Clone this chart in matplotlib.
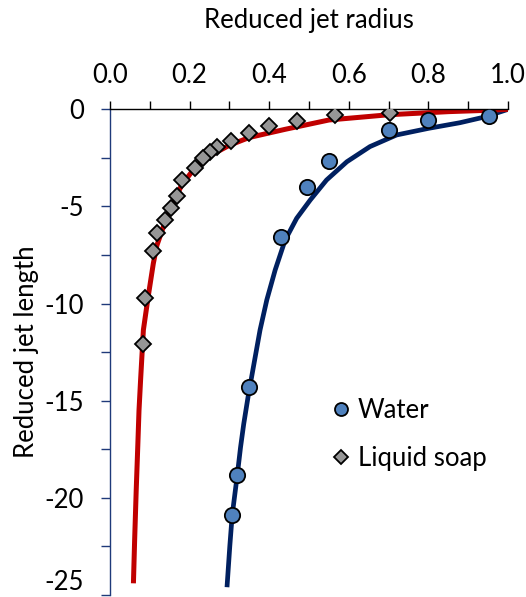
import numpy as np
import matplotlib
matplotlib.use("Agg")
import matplotlib.pyplot as plt
from matplotlib.ticker import MultipleLocator, FormatStrFormatter

plt.rcParams['font.family'] = ['Lato', 'DejaVu Sans']
plt.rcParams['axes.unicode_minus'] = False

# measured points
waterR = [0.952, 0.800, 0.701, 0.549, 0.496, 0.430, 0.348, 0.320, 0.307]
waterL = [-0.33, -0.55, -1.07, -2.66, -4.01, -6.56, -14.31, -18.82, -20.88]

soapR = [0.704, 0.565, 0.469, 0.400, 0.350, 0.304, 0.270, 0.251, 0.234,
         0.214, 0.180, 0.168, 0.153, 0.138, 0.119, 0.107, 0.088, 0.082]
soapL = [-0.21, -0.29, -0.60, -0.86, -1.24, -1.62, -1.92, -2.18, -2.52,
         -3.04, -3.64, -4.46, -5.10, -5.70, -6.38, -7.29, -9.73, -12.10]

# model curves
waterFitR = [1.0, 0.94, 0.879, 0.800, 0.720, 0.653, 0.595, 0.544, 0.503,
             0.469, 0.440, 0.415, 0.394, 0.377, 0.362, 0.347, 0.336, 0.328,
             0.320, 0.307, 0.301, 0.294]
waterFitL = [0.0, -0.40, -0.69, -0.98, -1.32, -1.92, -2.70, -3.64, -4.67,
             -5.61, -6.73, -8.27, -9.81, -11.36, -13.07, -14.79, -16.2, -17.4,
             -18.8, -20.9, -22.5, -24.6]

soapFitR = [1.0, 0.95, 0.85, 0.70, 0.55, 0.44, 0.35, 0.30, 0.25, 0.21, 0.18,
            0.155, 0.135, 0.118, 0.109, 0.096, 0.084, 0.077, 0.073, 0.070,
            0.066, 0.062, 0.059]
soapFitL = [0.0, -0.05, -0.12, -0.28, -0.55, -1.03, -1.45, -1.85, -2.4, -3.1,
            -3.9, -5.0, -6.0, -7.0, -7.93, -9.65, -11.36, -13.93, -15.5,
            -17.3, -19.6, -22.2, -24.4]

fs = 18.5

fig = plt.figure(figsize=(5.26, 5.97), dpi=100)
ax = fig.add_axes([0.209, 0.0034, 0.757, 0.8135])

ax.plot(waterFitR, waterFitL, '-', color='#002060', linewidth=3.4,
        solid_capstyle='butt', solid_joinstyle='round', zorder=2)
ax.plot(soapFitR, soapFitL, '-', color='#c00000', linewidth=3.6,
        solid_capstyle='butt', solid_joinstyle='round', zorder=2)
ax.plot(waterR, waterL, 'o', markersize=11, markerfacecolor='#4f81bd',
        markeredgecolor='black', markeredgewidth=1.3, label='Water',
        zorder=3)
ax.plot(soapR, soapL, 'D', markersize=8.2, markerfacecolor='#969696',
        markeredgecolor='black', markeredgewidth=1.3, label='Liquid soap',
        zorder=3)

ax.set_xlim(0, 1.0)
ax.set_ylim(-25, 0)
ax.xaxis.tick_top()
ax.xaxis.set_label_position('top')
ax.spines['right'].set_visible(False)
ax.spines['bottom'].set_visible(False)
ax.spines['top'].set_color('black')
ax.spines['left'].set_color('#1f3a7a')
ax.spines['top'].set_linewidth(1.0)
ax.spines['left'].set_linewidth(1.0)

ax.xaxis.set_major_locator(MultipleLocator(0.2))
ax.xaxis.set_minor_locator(MultipleLocator(0.1))
ax.xaxis.set_major_formatter(FormatStrFormatter('%.1f'))
ax.set_yticks([-25, -20, -15, -10, -5, 0])
ax.yaxis.set_minor_locator(MultipleLocator(2.5))

ax.tick_params(axis='x', which='both', direction='out', length=5.5, width=1,
               color='black', labelsize=fs, pad=10)
ax.tick_params(axis='y', which='both', direction='out', length=6.5, width=1,
               color='#1f3a7a', labelsize=fs, pad=12)
ax.get_yticklabels()[0].set_verticalalignment('bottom')

ax.set_xlabel('Reduced jet radius', fontsize=fs, labelpad=25)
ax.set_ylabel('Reduced jet length', fontsize=fs, labelpad=4)

ax.legend(loc='center left', bbox_to_anchor=(0.534, 0.33), frameon=False,
          fontsize=fs, markerscale=0.85, handlelength=0.6, handletextpad=0.38,
          labelspacing=0.9, borderaxespad=0)

fig.savefig('out.png', dpi=100)
